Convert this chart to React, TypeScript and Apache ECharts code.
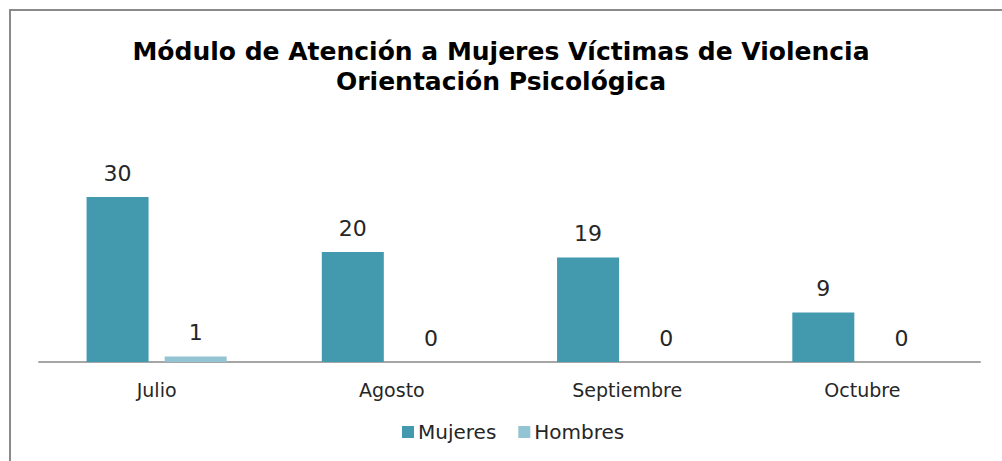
import React, { useEffect, useRef } from "react";
import * as echarts from "echarts";

const titleText = "Módulo de Atención a Mujeres Víctimas de Violencia\nOrientación Psicológica";
const categories = ["Julio", "Agosto", "Septiembre", "Octubre"];
const mujeres = [30, 20, 19, 9];
const hombres = [1, 0, 0, 0];
const seriesNames = ["Mujeres", "Hombres"];

const FONT = "'DejaVu Sans', sans-serif";

export default function App() {
  const ref = useRef<HTMLDivElement>(null);
  useEffect(() => {
    if (!ref.current) return;
    const chart = echarts.init(ref.current, undefined, { renderer: "svg" });
    chart.setOption({
      animation: false,
      backgroundColor: "#ffffff",
      graphic: [
        {
          type: "rect",
          shape: { x: 10, y: 10, width: 1000, height: 460 },
          style: { fill: "none", stroke: "#8a8a8a", lineWidth: 2 },
          silent: true,
        },
      ],
      title: {
        text: titleText,
        left: "center",
        top: 31,
        textStyle: {
          fontFamily: FONT,
          fontWeight: "bold",
          fontSize: 25,
          lineHeight: 30,
          color: "#000000",
        },
      },
      legend: {
        bottom: 14,
        left: 397,
        itemWidth: 12,
        itemHeight: 12,
        itemGap: 22,
        icon: "rect",
        textStyle: { fontFamily: FONT, fontSize: 20, color: "#262626", padding: [0, 0, 0, -1] },
        data: seriesNames,
      },
      grid: { left: 39, right: 22, top: 142, bottom: 99 },
      xAxis: {
        type: "category",
        data: categories,
        axisLine: { lineStyle: { color: "#a6a6a6", width: 2 } },
        axisTick: { show: false },
        axisLabel: { fontFamily: FONT, fontSize: 19, color: "#262626", margin: 18 },
      },
      yAxis: {
        type: "value",
        min: 0,
        max: 40,
        show: false,
        splitLine: { show: false },
      },
      series: [
        {
          name: seriesNames[0],
          type: "bar",
          data: mujeres,
          barWidth: 62,
          barGap: "26%",
          itemStyle: { color: "#4399ae" },
          label: {
            show: true,
            position: "top",
            distance: 13,
            fontFamily: FONT,
            fontSize: 22,
            color: "#262626",
          },
        },
        {
          name: seriesNames[1],
          type: "bar",
          data: hombres,
          barWidth: 62,
          itemStyle: { color: "#93c4d4" },
          label: {
            show: true,
            position: "top",
            distance: 13,
            fontFamily: FONT,
            fontSize: 22,
            color: "#262626",
          },
        },
      ],
    });
    return () => chart.dispose();
  }, []);
  return (
    <div
      ref={ref}
      style={{ position: "fixed", left: 0, top: 0, width: 1002, height: 461 }}
    />
  );
}
